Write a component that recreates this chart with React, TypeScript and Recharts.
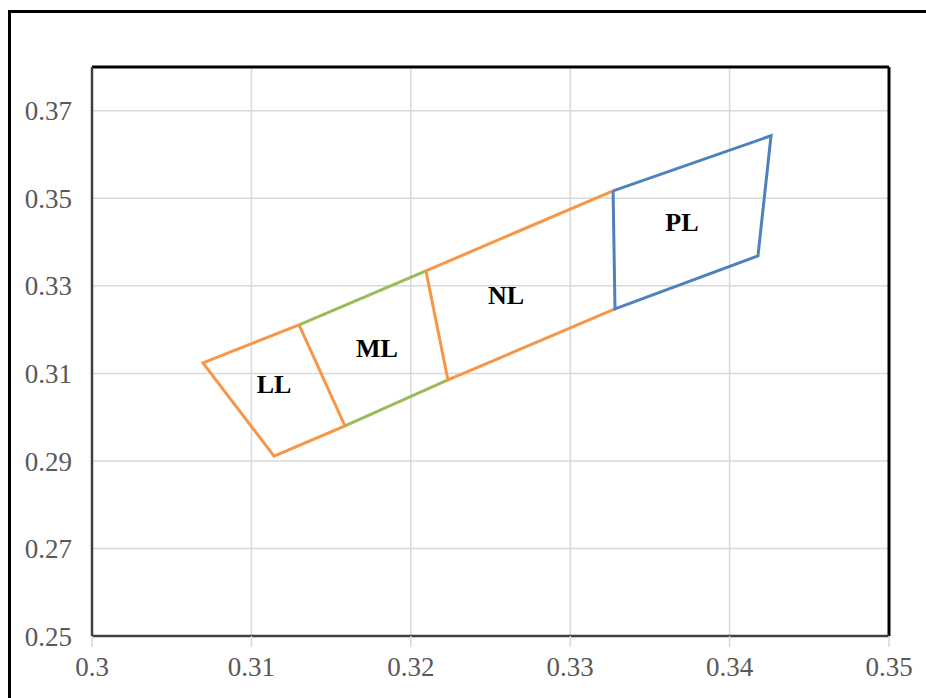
import { ScatterChart, Scatter, XAxis, YAxis, CartesianGrid, ReferenceLine } from 'recharts';

// corner points of the zones
const llOutline = [
  { x: 0.31299, y: 0.3211 },
  { x: 0.30696, y: 0.3124 },
  { x: 0.31142, y: 0.2911 },
  { x: 0.31587, y: 0.298 },
  { x: 0.31299, y: 0.3211 },
];
const mlTop = [
  { x: 0.31299, y: 0.3211 },
  { x: 0.32095, y: 0.33343 },
];
const mlBottom = [
  { x: 0.31587, y: 0.298 },
  { x: 0.32233, y: 0.3085 },
];
const nlOutline = [
  { x: 0.33269, y: 0.35171 },
  { x: 0.32095, y: 0.33343 },
  { x: 0.32233, y: 0.3085 },
  { x: 0.33281, y: 0.32474 },
];
const plOutline = [
  { x: 0.33269, y: 0.35171 },
  { x: 0.33281, y: 0.32474 },
  { x: 0.34178, y: 0.33686 },
  { x: 0.3426, y: 0.36429 },
  { x: 0.33269, y: 0.35171 },
];
const zoneLabels = [
  { x: 0.31142, y: 0.30737, name: 'LL' },
  { x: 0.31788, y: 0.3156, name: 'ML' },
  { x: 0.32597, y: 0.32771, name: 'NL' },
  { x: 0.33701, y: 0.3444, name: 'PL' },
];

const xTicks = [0.3, 0.31, 0.32, 0.33, 0.34, 0.35];
const yTicks = [0.25, 0.27, 0.29, 0.31, 0.33, 0.35, 0.37];

const ORANGE = '#F79646';
const GREEN = '#9BBB59';
const BLUE = '#4F81BD';
const FONT = '"Liberation Serif", "Times New Roman", serif';

const noDot = () => <g />;

const labelShape = (props: any) => (
  <text
    x={props.cx}
    y={props.cy}
    textAnchor="middle"
    dominantBaseline="central"
    fontFamily={FONT}
    fontWeight="bold"
    fontSize={26}
    fill="#000"
  >
    {props.payload.name}
  </text>
);

export default function App() {
  const tick = { fill: '#595959', fontSize: 27, fontFamily: FONT };
  return (
    <div style={{ position: 'absolute', left: 0, top: 0, width: 926, height: 698, overflow: 'hidden', background: '#fff' }}>
      <div style={{ position: 'absolute', left: 8, top: 10, width: 940, height: 720, border: '3px solid #000' }} />
      <div style={{ position: 'absolute', left: 0, top: 0 }}>
        <ScatterChart width={926} height={698} margin={{ top: 67, right: 37, left: 12, bottom: 12 }}>
          <CartesianGrid stroke="#d9d9d9" strokeWidth={1.5} />
          <XAxis
            type="number"
            dataKey="x"
            domain={[0.3, 0.35]}
            ticks={xTicks}
            tickFormatter={(v: number) => `${+v.toFixed(2)}`}
            tick={tick}
            tickSize={11}
            tickLine={{ stroke: '#d9d9d9', strokeWidth: 1.5 }}
            axisLine={{ stroke: '#404040', strokeWidth: 2.5 }}
            tickMargin={10}
            height={50}
            allowDataOverflow
          />
          <YAxis
            type="number"
            dataKey="y"
            domain={[0.25, 0.38]}
            ticks={yTicks}
            tickFormatter={(v: number) => v.toFixed(2)}
            tick={tick}
            tickSize={0}
            tickLine={false}
            tickMargin={20}
            axisLine={{ stroke: '#404040', strokeWidth: 2.5 }}
            width={80}
            allowDataOverflow
          />
          <ReferenceLine y={0.38} stroke="#000" strokeWidth={3} />
          <ReferenceLine x={0.35} stroke="#000" strokeWidth={3} />
          <Scatter data={llOutline} line={{ stroke: ORANGE, strokeWidth: 3 }} shape={noDot} isAnimationActive={false} />
          <Scatter data={mlTop} line={{ stroke: GREEN, strokeWidth: 3 }} shape={noDot} isAnimationActive={false} />
          <Scatter data={mlBottom} line={{ stroke: GREEN, strokeWidth: 3 }} shape={noDot} isAnimationActive={false} />
          <Scatter data={nlOutline} line={{ stroke: ORANGE, strokeWidth: 3 }} shape={noDot} isAnimationActive={false} />
          <Scatter data={plOutline} line={{ stroke: BLUE, strokeWidth: 3 }} shape={noDot} isAnimationActive={false} />
          <Scatter data={zoneLabels} shape={labelShape} isAnimationActive={false} />
        </ScatterChart>
      </div>
    </div>
  );
}
